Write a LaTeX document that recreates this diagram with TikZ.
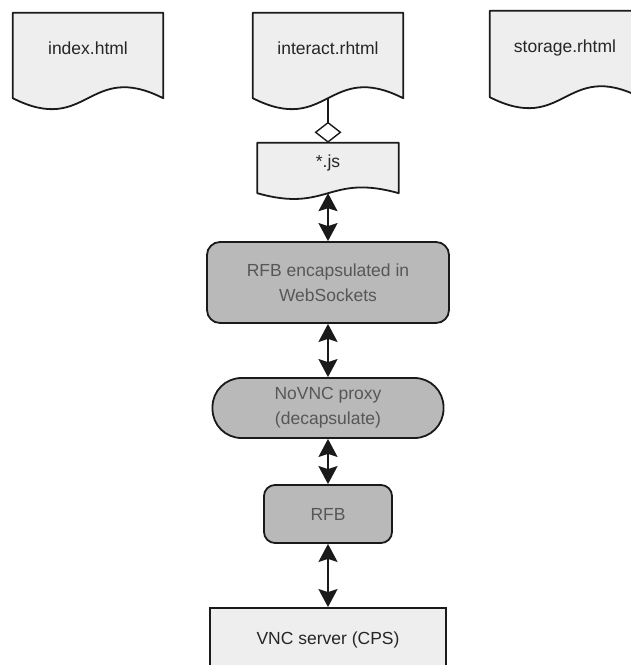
\documentclass[tikz,border=0pt]{standalone}
\usepackage{fontspec}
\setmainfont{Liberation Sans}
\usetikzlibrary{arrows.meta,calc,backgrounds}

\definecolor{docfill}{HTML}{EEEEEE}
\definecolor{boxgrey}{HTML}{B9B9B9}
\definecolor{edge}{HTML}{1A1A1A}
\definecolor{greytext}{HTML}{575757}
\definecolor{doctext}{HTML}{262626}

\tikzset{
  base/.style={font=\fontsize{17.5}{25}\selectfont, align=center, inner sep=0pt},
  docnode/.style={base, text=doctext, text height=12pt, text depth=15pt},
  waved/.style={draw=edge, line width=1.8pt, fill=docfill, line join=round},
  greybox/.style={base, draw=edge, line width=1.8pt, fill=boxgrey,
                  rounded corners=#1, text=greytext},
  plainbox/.style={base, draw=edge, line width=1.8pt, fill=docfill, text=doctext},
  biarrow/.style={draw=edge, line width=2pt,
    {Stealth[length=18pt,width=19pt,inset=3pt]}-{Stealth[length=18pt,width=19pt,inset=3pt]}},
  aggregation/.style={draw=edge, line width=1.4pt,
    -{Diamond[length=21pt,width=27pt,fill=white]}},
}

% page-shaped outline: straight top and sides, S-shaped lower edge
\newcommand\wavedoc[2]{%
  \path[waved] (#1.north west) -- (#1.north east) -- (#1.south east)
    .. controls ($(#1.south)+(0,-#2)$) and ($(#1.south)+(0,#2)$) .. (#1.south west)
    -- cycle;}

\begin{document}
\begin{tikzpicture}[x=1pt, y=-1pt]
  \useasboundingbox (0,0) rectangle (631,665);
  \clip (0,0) rectangle (631,665);

  % web pages
  \node[docnode, minimum width=150pt, minimum height=85pt] (index)    at (88,55.5)  {index.html};
  \node[docnode, minimum width=150pt, minimum height=85pt] (interact) at (328,55.5) {interact.rhtml};
  \node[docnode, minimum width=150pt, minimum height=86pt] (storage)  at (565,54)   {storage.rhtml};
  \node[docnode, minimum width=141pt, minimum height=50pt, text depth=14pt] (js) at (328,168) {*.js};

  \begin{pgfonlayer}{background}
    \wavedoc{index}{38}
    \wavedoc{interact}{38}
    \wavedoc{storage}{38}
    \wavedoc{js}{20}
  \end{pgfonlayer}

  % protocol chain
  \node[greybox=13pt, minimum width=242pt, minimum height=81pt] (rfbws) at (328,282.5)
    {RFB encapsulated in\\WebSockets};
  \node[greybox=29pt, minimum width=231pt, minimum height=60pt] (proxy) at (328,408)
    {NoVNC proxy\\(decapsulate)};
  \node[greybox=11pt, minimum width=128pt, minimum height=58pt] (rfb) at (328,514) {RFB};
  \node[plainbox, minimum width=236pt, minimum height=64pt] (vnc) at (328,640) {VNC server (CPS)};

  % connectors
  \draw[aggregation] (interact.south) -- (js.north);
  \draw[biarrow] (js.south) -- (rfbws.north);
  \draw[biarrow] (rfbws.south) -- (proxy.north);
  \draw[biarrow] (proxy.south) -- (rfb.north);
  \draw[biarrow] (rfb.south) -- (vnc.north);
\end{tikzpicture}
\end{document}
